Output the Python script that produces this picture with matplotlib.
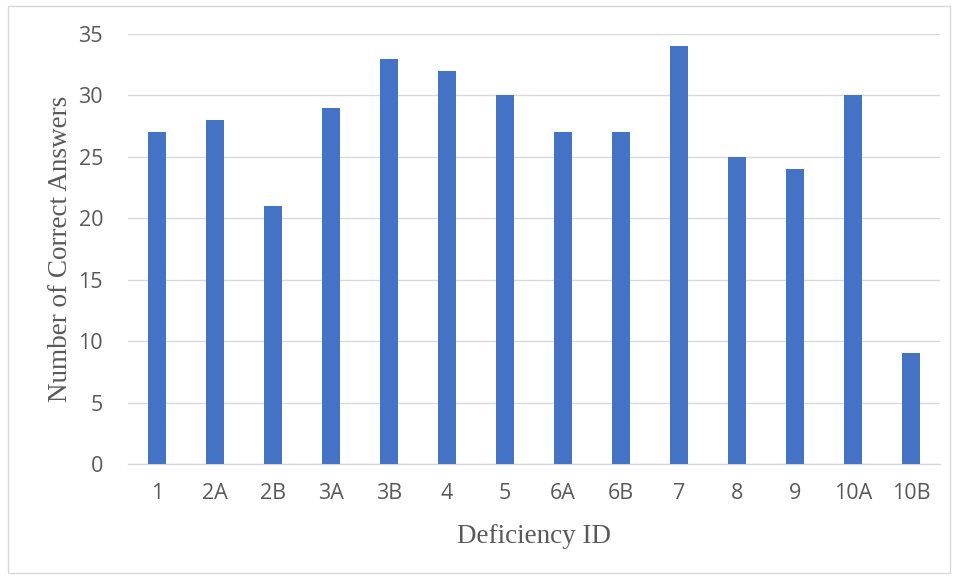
import matplotlib as mpl
mpl.use("Agg")
import matplotlib.pyplot as plt
from matplotlib.patches import Rectangle

# correct answers per deficiency
deficiency_ids = ['1', '2A', '2B', '3A', '3B', '4', '5', '6A', '6B', '7', '8', '9', '10A', '10B']
correct_answers = [27, 28, 21, 29, 33, 32, 30, 27, 27, 34, 25, 24, 30, 9]

bar_color = '#4472C4'
text_gray = '#595959'
grid_gray = '#D9D9D9'

fig = plt.figure(figsize=(9.56, 5.78), dpi=100)
ax = fig.add_axes([0.1339, 0.1972, 0.8494, 0.744])

x = range(len(deficiency_ids))
ax.bar(x, correct_answers, width=0.32, color=bar_color, zorder=3)

ax.set_xlim(-0.5, len(deficiency_ids) - 0.5)
ax.set_ylim(0, 35)
ax.set_yticks(range(0, 36, 5))
ax.set_xticks(list(x))
ax.set_xticklabels(deficiency_ids)

ax.grid(axis='y', color=grid_gray, linewidth=1.0, zorder=0)
for side in ['top', 'right', 'left']:
    ax.spines[side].set_visible(False)
ax.spines['bottom'].set_color(grid_gray)
ax.spines['bottom'].set_linewidth(1.0)
ax.tick_params(axis='x', length=0, labelsize=15.5, labelcolor=text_gray, pad=14)
ax.tick_params(axis='y', length=0, labelsize=15.5, labelcolor=text_gray, pad=18)
for lab in ax.get_xticklabels() + ax.get_yticklabels():
    lab.set_family(['Open Sans', 'DejaVu Sans'])

ax.set_xlabel('Deficiency ID', family='Liberation Serif', fontsize=19.5,
              color=text_gray, labelpad=14)
ax.set_ylabel('Number of Correct Answers', family='Liberation Serif',
              fontsize=19.5, color=text_gray, labelpad=4)

# chart frame
fig.patches.append(Rectangle((8 / 956, 5 / 578), 942 / 956, 567 / 578,
                             transform=fig.transFigure, fill=False,
                             edgecolor=grid_gray, linewidth=1.0))

plt.savefig('out.png', dpi=100)
